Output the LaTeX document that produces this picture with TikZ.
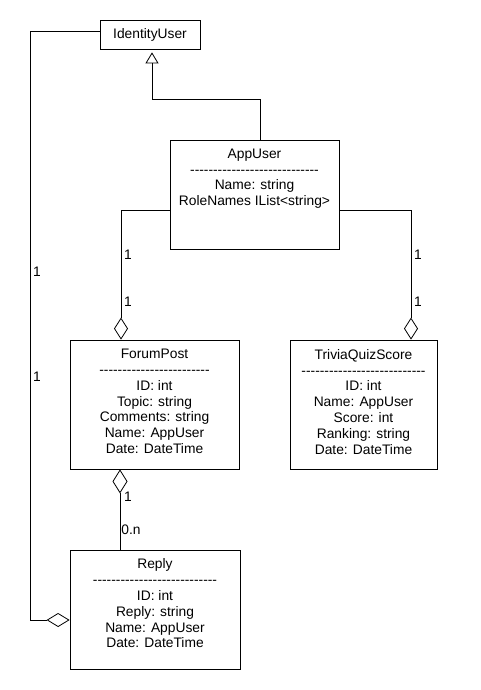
\documentclass[tikz,border=0pt]{standalone}
\usepackage{fontspec}
\setmainfont{Liberation Sans}
\usetikzlibrary{arrows.meta,calc}
\newcommand\dashrow[1]{\ifnum#1>0 -\kern0pt\expandafter\dashrow\expandafter{\the\numexpr#1-1\relax}\fi}
\tikzset{
  cls/.style={draw, line width=0.8pt, inner sep=0pt, fill=white, font=\fontsize{13.8}{15.8}\selectfont},
  txt/.style={align=center, font=\fontsize{13.8}{15.8}\selectfont, inner sep=0pt, anchor=north},
  lbl/.style={font=\fontsize{13.8}{15.8}\selectfont, inner sep=0pt},
  conn/.style={line width=0.8pt},
}
\begin{document}
\begin{tikzpicture}[x=1pt,y=-1pt]
\fill[white] (0,0) rectangle (480,690);
\useasboundingbox (0,0) rectangle (480,690);
% classes
\node[cls, minimum width=100pt, minimum height=29pt] (iu) at (150,34.5) {IdentityUser};
\node[cls, minimum width=169pt, minimum height=109pt] (au) at (254.5,194.5) {};
\node[txt] (aut) at ([yshift=-9pt]au.north) {AppUser\\\dashrow{28}\\Name: string\\RoleNames IList<string>};
\node[cls, minimum width=169pt, minimum height=129pt] (fp) at (154.5,404.5) {};
\node[txt] (fpt) at ([yshift=-9.5pt]fp.north) {ForumPost\\\dashrow{24}\\ID: int\\Topic: string\\Comments: string\\Name: AppUser\\Date: DateTime};
\node[cls, minimum width=147pt, minimum height=129pt] (tq) at (363.5,404.5) {};
\node[txt] (tqt) at ([yshift=-9.5pt]tq.north) {TriviaQuizScore\\\dashrow{27}\\ID: int\\Name: AppUser\\Score: int\\Ranking: string\\Date: DateTime};
\node[cls, minimum width=170pt, minimum height=119pt] (rp) at (155,609.5) {};
\node[txt] (rpt) at ([yshift=-9pt]rp.north) {Reply\\\dashrow{27}\\ID: int\\Reply: string\\Name: AppUser\\Date: DateTime};
% connectors
\draw[conn, -{Triangle[open,width=13pt,length=11pt]}] ([xshift=5.5pt]au.north) -- ++(0,-40) -| ([xshift=2pt,yshift=-3pt]iu.south);
\draw[conn, -{Diamond[open,width=14pt,length=22pt]}] ([yshift=-15.5pt]au.west) -| ([xshift=-33.5pt]fp.north);
\draw[conn, -{Diamond[open,width=14pt,length=22pt]}] ([yshift=-15.5pt]au.east) -| ([xshift=47.5pt]tq.north);
\draw[conn, -{Diamond[open,width=15pt,length=24pt]}] ([xshift=-35pt]rp.north) -- ([xshift=-34.5pt]fp.south);
\draw[conn, -{Diamond[open,width=14pt,length=23pt]}] ([yshift=3.5pt]iu.west) -- ++(-69,0) |- ([yshift=-10.5pt]rp.west);
% multiplicities
\node[lbl] (m1) at (128,255) {1};
\node[lbl] (m2) at (128,302) {1};
\node[lbl] (m3) at (418,255) {1};
\node[lbl] (m4) at (418,302) {1};
\node[lbl] (m5) at (37,272) {1};
\node[lbl] (m6) at (37,377) {1};
\node[lbl] (m7) at (128,497) {1};
\node[lbl] (m8) at (131,530) {0.n};
\end{tikzpicture}
\end{document}
